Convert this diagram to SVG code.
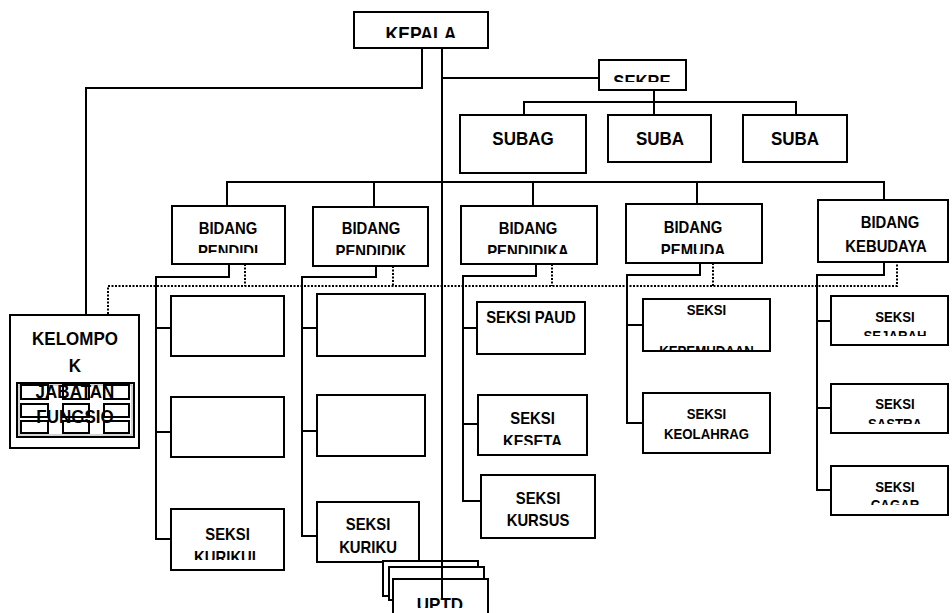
<svg xmlns="http://www.w3.org/2000/svg" width="952" height="613" viewBox="0 0 952 613">
<style>
.b{fill:#fff;stroke:#000;stroke-width:2}
.ln{fill:none;stroke:#000;stroke-width:2}
.dot{fill:none;stroke:#000;stroke-width:2;stroke-dasharray:2 1.5}
text{font-family:"Liberation Sans",Arial,sans-serif;font-weight:bold;fill:#000;text-anchor:middle}
.t17{font-size:18.5px}
.t15{font-size:16.5px}
.t13{font-size:15px}
.sm{fill:none;stroke:#000;stroke-width:2}
</style>
<defs>
<clipPath id="cKepala"><rect x="350" y="0" width="150" height="38"/></clipPath>
<clipPath id="cSekre"><rect x="590" y="0" width="110" height="82"/></clipPath>
<clipPath id="cB1"><rect x="160" y="200" width="140" height="53"/></clipPath>
<clipPath id="cB2"><rect x="300" y="200" width="140" height="55"/></clipPath>
<clipPath id="cB3"><rect x="455" y="200" width="150" height="54"/></clipPath>
<clipPath id="cB4"><rect x="620" y="200" width="150" height="54"/></clipPath>
<clipPath id="cKurikul"><rect x="165" y="500" width="130" height="60"/></clipPath>
<clipPath id="cKeseta"><rect x="470" y="390" width="125" height="55"/></clipPath>
<clipPath id="cPemuda"><rect x="640" y="295" width="135" height="55"/></clipPath>
<clipPath id="cSejarah"><rect x="825" y="290" width="127" height="46"/></clipPath>
<clipPath id="cSastra"><rect x="825" y="380" width="127" height="44"/></clipPath>
<clipPath id="cCagar"><rect x="825" y="460" width="127" height="45"/></clipPath>
<clipPath id="cUptd"><rect x="390" y="570" width="100" height="38"/></clipPath>
</defs>

<g id="connectors">
  <path class="ln" d="M422,48 V88 H86 V315"/>
  <path class="ln" d="M442,78 H599"/>
  <path class="ln" d="M654,90 V102 M524,115 V102 H796 V115 M654,102 V115"/>
  <path class="ln" d="M227,206 V182 H884 V200 M374,182 V207 M533,182 V206 M697,182 V204"/>
  <path class="ln" d="M229,264 V277 H156 V539 H171 M156,328 H171 M156,432 H171"/>
  <path class="ln" d="M376,266 V277 H302 V536 H317 M302,328 H317 M302,431 H317"/>
  <path class="ln" d="M536,264 V276 H463 V501 H481 M463,328 H477 M463,424 H478"/>
  <path class="ln" d="M700,263 V275 H627 V423 H643 M627,325 H643"/>
  <path class="ln" d="M884,262 V275 H817 V490 H831 M817,321 H831 M817,408 H831"/>
  <path class="dot" d="M108,321 V286 H897 V262 M245,264 V286 M393,266 V286 M552,264 V286 M713,263 V286"/>
</g>

<g id="kepala"><rect class="b" x="354" y="12" width="134" height="36"/><g clip-path="url(#cKepala)"><text class="t17" style="font-size:19.5px" transform="translate(421 0) scale(0.9 1)" x="0" y="41">KEPALA</text></g></g>
<g id="sekre"><rect class="b" x="599" y="60" width="87" height="30"/><g clip-path="url(#cSekre)"><text class="t17" transform="translate(642 0) scale(0.9 1)" x="0" y="88">SEKRE</text></g></g>
<g id="subag1"><rect class="b" x="460" y="115" width="126" height="58"/><text class="t17" transform="translate(523 0) scale(0.92 1)" x="0" y="145">SUBAG</text></g>
<g id="subag2"><rect class="b" x="608" y="115" width="103" height="47"/><text class="t17" transform="translate(660 0) scale(0.92 1)" x="0" y="145">SUBA</text></g>
<g id="subag3"><rect class="b" x="743" y="115" width="104" height="47"/><text class="t17" transform="translate(795 0) scale(0.92 1)" x="0" y="145">SUBA</text></g>

<g id="bidang1"><rect class="b" x="172" y="206" width="113" height="58"/><g clip-path="url(#cB1)"><text class="t15" transform="translate(228 0) scale(0.9 1)" x="0" y="234">BIDANG</text><text class="t15" transform="translate(228 0) scale(0.9 1)" x="0" y="257">PENDIDI</text></g></g>
<g id="bidang2"><rect class="b" x="313" y="207" width="115" height="59"/><g clip-path="url(#cB2)"><text class="t15" transform="translate(371 0) scale(0.9 1)" x="0" y="234">BIDANG</text><text class="t15" transform="translate(371 0) scale(0.9 1)" x="0" y="257">PENDIDIK</text></g></g>
<g id="bidang3"><rect class="b" x="461" y="206" width="136" height="58"/><g clip-path="url(#cB3)"><text class="t15" transform="translate(528 0) scale(0.9 1)" x="0" y="234">BIDANG</text><text class="t15" transform="translate(528 0) scale(0.9 1)" x="0" y="257">PENDIDIKA</text></g></g>
<g id="bidang4"><rect class="b" x="626" y="204" width="136" height="59"/><g clip-path="url(#cB4)"><text class="t15" transform="translate(693 0) scale(0.9 1)" x="0" y="233">BIDANG</text><text class="t15" transform="translate(693 0) scale(0.9 1)" x="0" y="256">PEMUDA</text></g></g>
<g id="bidang5"><rect class="b" x="818" y="200" width="130" height="62"/><text class="t15" transform="translate(890 0) scale(0.9 1)" x="0" y="228">BIDANG</text><text class="t15" transform="translate(886 0) scale(0.9 1)" x="0" y="252">KEBUDAYA</text></g>

<g id="kelompok">
  <rect class="b" x="10" y="315" width="129" height="133"/>
  <rect x="17" y="383" width="117" height="54" fill="none" stroke="#000" stroke-width="2"/>
  <rect x="19" y="385" width="113" height="50" fill="none" stroke="#aaa" stroke-width="1"/>
  <rect class="sm" x="21" y="385" width="27" height="14"/><rect class="sm" x="63" y="385" width="26" height="14"/><rect class="sm" x="104" y="385" width="25" height="14"/>
  <rect class="sm" x="21" y="404" width="27" height="13"/><rect class="sm" x="63" y="404" width="26" height="13"/><rect class="sm" x="104" y="404" width="25" height="13"/>
  <rect class="sm" x="21" y="421" width="27" height="12"/><rect class="sm" x="63" y="421" width="26" height="12"/><rect class="sm" x="104" y="421" width="25" height="12"/>
  <text class="t17" transform="translate(75 0) scale(0.92 1)" x="0" y="345">KELOMPO</text>
  <text class="t17" transform="translate(75 0) scale(0.92 1)" x="0" y="372">K</text>
  <text class="t17" transform="translate(75 0) scale(0.92 1)" x="0" y="398">JABATAN</text>
  <text class="t17" transform="translate(75 0) scale(0.92 1)" x="0" y="423">FUNGSIO</text>
</g>

<g id="seksi1a"><rect class="b" x="171" y="296" width="113" height="60"/></g>
<g id="seksi1b"><rect class="b" x="171" y="397" width="113" height="60"/></g>
<g id="seksi1c"><rect class="b" x="171" y="509" width="113" height="61"/><g clip-path="url(#cKurikul)"><text class="t15" transform="translate(227.5 0) scale(0.9 1)" x="0" y="540">SEKSI</text><text class="t15" transform="translate(227.5 0) scale(0.9 1)" x="0" y="563">KURIKUL</text></g></g>

<g id="seksi2a"><rect class="b" x="317" y="294" width="108" height="62"/></g>
<g id="seksi2b"><rect class="b" x="317" y="395" width="108" height="61"/></g>
<g id="seksi2c"><rect class="b" x="317" y="502" width="102" height="60"/><text class="t15" transform="translate(368 0) scale(0.9 1)" x="0" y="530">SEKSI</text><text class="t15" transform="translate(368 0) scale(0.9 1)" x="0" y="553">KURIKU</text></g>

<g id="seksi3a"><rect class="b" x="477" y="302" width="108" height="52"/><text class="t15" transform="translate(531 0) scale(0.9 1)" x="0" y="323">SEKSI PAUD</text></g>
<g id="seksi3b"><rect class="b" x="478" y="395" width="109" height="60"/><g clip-path="url(#cKeseta)"><text class="t15" transform="translate(532.5 0) scale(0.9 1)" x="0" y="424">SEKSI</text><text class="t15" transform="translate(532.5 0) scale(0.9 1)" x="0" y="447">KESETA</text></g></g>
<g id="seksi3c"><rect class="b" x="481" y="475" width="114" height="63"/><text class="t15" transform="translate(538 0) scale(0.9 1)" x="0" y="504">SEKSI</text><text class="t15" transform="translate(538 0) scale(0.9 1)" x="0" y="526">KURSUS</text></g>

<g id="seksi4a"><rect class="b" x="643" y="299" width="127" height="52"/><g clip-path="url(#cPemuda)"><text class="t13" transform="translate(706.5 0) scale(0.88 1)" x="0" y="315">SEKSI</text><text class="t13" transform="translate(706.5 0) scale(0.88 1)" x="0" y="356">KEPEMUDAAN</text></g></g>
<g id="seksi4b"><rect class="b" x="643" y="393" width="127" height="60"/><text class="t13" transform="translate(706.5 0) scale(0.88 1)" x="0" y="419">SEKSI</text><text class="t13" transform="translate(706.5 0) scale(0.88 1)" x="0" y="439">KEOLAHRAG</text></g>

<g id="seksi5a"><rect class="b" x="831" y="296" width="117" height="49"/><g clip-path="url(#cSejarah)"><text class="t13" transform="translate(895 0) scale(0.88 1)" x="0" y="322">SEKSI</text><text class="t13" transform="translate(895 0) scale(0.88 1)" x="0" y="341">SEJARAH</text></g></g>
<g id="seksi5b"><rect class="b" x="831" y="384" width="117" height="49"/><g clip-path="url(#cSastra)"><text class="t13" transform="translate(895 0) scale(0.88 1)" x="0" y="409">SEKSI</text><text class="t13" transform="translate(895 0) scale(0.88 1)" x="0" y="429">SASTRA</text></g></g>
<g id="seksi5c"><rect class="b" x="831" y="466" width="117" height="49"/><g clip-path="url(#cCagar)"><text class="t13" transform="translate(895 0) scale(0.88 1)" x="0" y="492">SEKSI</text><text class="t13" transform="translate(895 0) scale(0.88 1)" x="0" y="510">CAGAR</text></g></g>

<g id="uptd">
  <rect class="b" x="383" y="561" width="95" height="35"/>
  <rect class="b" x="389" y="567" width="95" height="33"/>
  <rect class="b" x="393" y="579" width="95" height="50"/>
  <g clip-path="url(#cUptd)"><text class="t17" transform="translate(440 0) scale(0.92 1)" x="0" y="611">UPTD</text></g>
</g>
<g id="main-line"><path class="ln" d="M442,48 V600"/></g>
</svg>
